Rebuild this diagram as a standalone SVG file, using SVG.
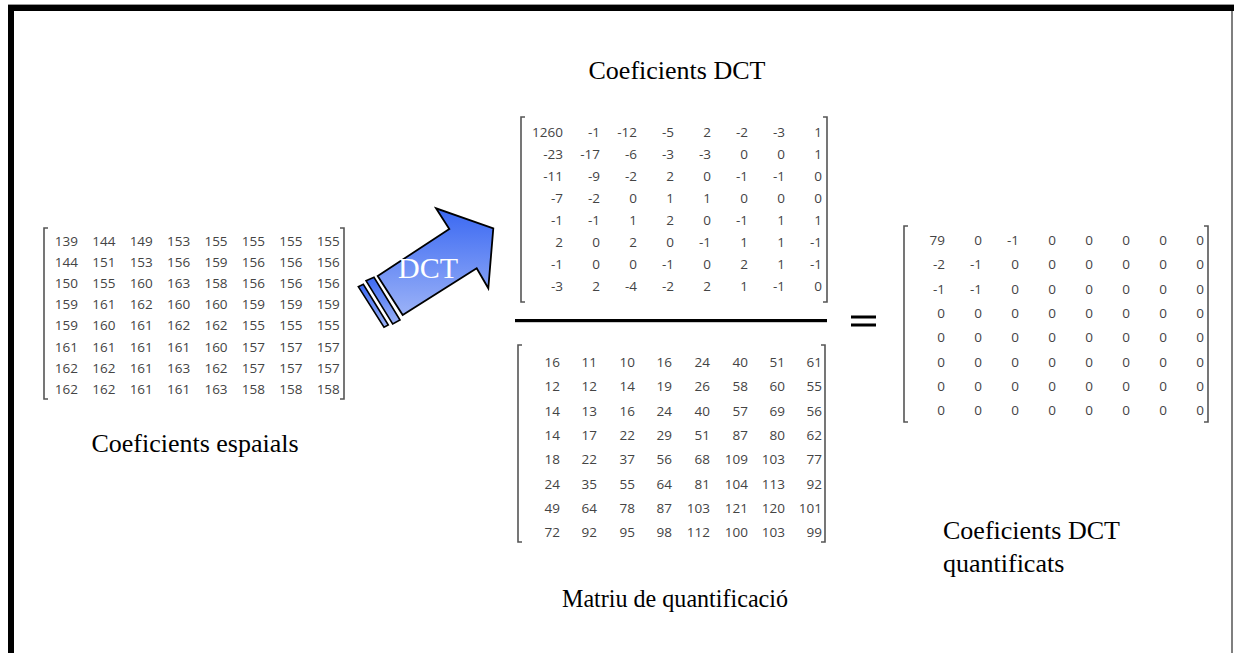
<svg xmlns="http://www.w3.org/2000/svg" width="1234" height="653" viewBox="0 0 1234 653">
  <style>
    .num { font-family: "Open Sans", "Noto Sans", "DejaVu Sans", sans-serif; font-size: 13.5px; fill: #444; text-anchor: end; }
    .lbl { font-family: "Liberation Serif", "Times New Roman", serif; font-size: 26px; fill: #000; }
    .br { fill: none; stroke: #555; stroke-width: 1.6; }
    .frame { fill: #000; }
  </style>
  <defs>
    <linearGradient id="arrowFill" x1="0" y1="0" x2="0" y2="1">
      <stop offset="0" stop-color="#3a68f2"/>
      <stop offset="1" stop-color="#9bb2f7"/>
    </linearGradient>
  </defs>

  <rect width="1234" height="653" fill="#fff"/>

  <!-- outer frame: heavy top and left edges, thin right edge -->
  <g id="frame">
    <line x1="8" y1="4.5" x2="1234" y2="4.5" stroke="#999" stroke-width="1"/>
    <rect class="frame" x="8" y="5" width="1226" height="6"/>
    <rect class="frame" x="8" y="5" width="6" height="648"/>
    <line x1="1232" y1="11" x2="1232" y2="653" stroke="#555" stroke-width="1.5"/>
  </g>

  <!-- spatial coefficients -->
  <g id="spatial">
    <path class="br" d="M48,228 H44 V399 H48"/>
    <path class="br" d="M340,228 H344 V399 H340"/>
    <g class="num">
      <text y="246"><tspan x="78">139</tspan><tspan x="115.4">144</tspan><tspan x="152.8">149</tspan><tspan x="190.2">153</tspan><tspan x="227.6">155</tspan><tspan x="265">155</tspan><tspan x="302.4">155</tspan><tspan x="339.8">155</tspan></text>
      <text y="267.1"><tspan x="78">144</tspan><tspan x="115.4">151</tspan><tspan x="152.8">153</tspan><tspan x="190.2">156</tspan><tspan x="227.6">159</tspan><tspan x="265">156</tspan><tspan x="302.4">156</tspan><tspan x="339.8">156</tspan></text>
      <text y="288.2"><tspan x="78">150</tspan><tspan x="115.4">155</tspan><tspan x="152.8">160</tspan><tspan x="190.2">163</tspan><tspan x="227.6">158</tspan><tspan x="265">156</tspan><tspan x="302.4">156</tspan><tspan x="339.8">156</tspan></text>
      <text y="309.3"><tspan x="78">159</tspan><tspan x="115.4">161</tspan><tspan x="152.8">162</tspan><tspan x="190.2">160</tspan><tspan x="227.6">160</tspan><tspan x="265">159</tspan><tspan x="302.4">159</tspan><tspan x="339.8">159</tspan></text>
      <text y="330.4"><tspan x="78">159</tspan><tspan x="115.4">160</tspan><tspan x="152.8">161</tspan><tspan x="190.2">162</tspan><tspan x="227.6">162</tspan><tspan x="265">155</tspan><tspan x="302.4">155</tspan><tspan x="339.8">155</tspan></text>
      <text y="351.5"><tspan x="78">161</tspan><tspan x="115.4">161</tspan><tspan x="152.8">161</tspan><tspan x="190.2">161</tspan><tspan x="227.6">160</tspan><tspan x="265">157</tspan><tspan x="302.4">157</tspan><tspan x="339.8">157</tspan></text>
      <text y="372.6"><tspan x="78">162</tspan><tspan x="115.4">162</tspan><tspan x="152.8">161</tspan><tspan x="190.2">163</tspan><tspan x="227.6">162</tspan><tspan x="265">157</tspan><tspan x="302.4">157</tspan><tspan x="339.8">157</tspan></text>
      <text y="393.7"><tspan x="78">162</tspan><tspan x="115.4">162</tspan><tspan x="152.8">161</tspan><tspan x="190.2">161</tspan><tspan x="227.6">163</tspan><tspan x="265">158</tspan><tspan x="302.4">158</tspan><tspan x="339.8">158</tspan></text>
    </g>
    <text class="lbl" x="195" y="452" text-anchor="middle">Coeficients espaials</text>
  </g>

  <!-- DCT transform arrow -->
  <g id="dct-arrow">
    <polygon points="358.3,286.7 363.3,284.3 388.3,325 384,327.3" fill="url(#arrowFill)" stroke="#000" stroke-width="1.6"/>
    <polygon points="366,280.7 374,277.3 400,320 392.7,324" fill="url(#arrowFill)" stroke="#000" stroke-width="1.6"/>
    <polygon points="402.7,315 377.7,276 449.3,229 436,208.3 493.3,228.3 488.3,288.3 476.7,268.3" fill="url(#arrowFill)" stroke="#000" stroke-width="1.8"/>
    <text x="428" y="278" text-anchor="middle" font-family="Liberation Serif, Times New Roman, serif" font-size="30" fill="#fff">DCT</text>
  </g>

  <!-- DCT coefficients (numerator) -->
  <g id="dct-coefs">
    <text class="lbl" x="677" y="79" text-anchor="middle">Coeficients DCT</text>
    <path class="br" d="M525,117 H521 V302 H525"/>
    <path class="br" d="M823,117 H827 V302 H823"/>
    <g class="num">
      <text y="137"><tspan x="563">1260</tspan><tspan x="600">-1</tspan><tspan x="637">-12</tspan><tspan x="674">-5</tspan><tspan x="711">2</tspan><tspan x="748">-2</tspan><tspan x="785">-3</tspan><tspan x="822">1</tspan></text>
      <text y="159"><tspan x="563">-23</tspan><tspan x="600">-17</tspan><tspan x="637">-6</tspan><tspan x="674">-3</tspan><tspan x="711">-3</tspan><tspan x="748">0</tspan><tspan x="785">0</tspan><tspan x="822">1</tspan></text>
      <text y="181"><tspan x="563">-11</tspan><tspan x="600">-9</tspan><tspan x="637">-2</tspan><tspan x="674">2</tspan><tspan x="711">0</tspan><tspan x="748">-1</tspan><tspan x="785">-1</tspan><tspan x="822">0</tspan></text>
      <text y="203"><tspan x="563">-7</tspan><tspan x="600">-2</tspan><tspan x="637">0</tspan><tspan x="674">1</tspan><tspan x="711">1</tspan><tspan x="748">0</tspan><tspan x="785">0</tspan><tspan x="822">0</tspan></text>
      <text y="225"><tspan x="563">-1</tspan><tspan x="600">-1</tspan><tspan x="637">1</tspan><tspan x="674">2</tspan><tspan x="711">0</tspan><tspan x="748">-1</tspan><tspan x="785">1</tspan><tspan x="822">1</tspan></text>
      <text y="247"><tspan x="563">2</tspan><tspan x="600">0</tspan><tspan x="637">2</tspan><tspan x="674">0</tspan><tspan x="711">-1</tspan><tspan x="748">1</tspan><tspan x="785">1</tspan><tspan x="822">-1</tspan></text>
      <text y="269"><tspan x="563">-1</tspan><tspan x="600">0</tspan><tspan x="637">0</tspan><tspan x="674">-1</tspan><tspan x="711">0</tspan><tspan x="748">2</tspan><tspan x="785">1</tspan><tspan x="822">-1</tspan></text>
      <text y="291"><tspan x="563">-3</tspan><tspan x="600">2</tspan><tspan x="637">-4</tspan><tspan x="674">-2</tspan><tspan x="711">2</tspan><tspan x="748">1</tspan><tspan x="785">-1</tspan><tspan x="822">0</tspan></text>
    </g>
  </g>

  <!-- fraction bar -->
  <g id="division">
    <rect x="515" y="319" width="312" height="3.2" fill="#000"/>
  </g>

  <!-- quantisation matrix (denominator) -->
  <g id="quant-matrix">
    <path class="br" d="M522,345 H518 V542 H522"/>
    <path class="br" d="M821,345 H825 V542 H821"/>
    <g class="num">
      <text y="367"><tspan x="560">16</tspan><tspan x="597">11</tspan><tspan x="635">10</tspan><tspan x="672">16</tspan><tspan x="710">24</tspan><tspan x="748">40</tspan><tspan x="785">51</tspan><tspan x="822">61</tspan></text>
      <text y="391.3"><tspan x="560">12</tspan><tspan x="597">12</tspan><tspan x="635">14</tspan><tspan x="672">19</tspan><tspan x="710">26</tspan><tspan x="748">58</tspan><tspan x="785">60</tspan><tspan x="822">55</tspan></text>
      <text y="415.6"><tspan x="560">14</tspan><tspan x="597">13</tspan><tspan x="635">16</tspan><tspan x="672">24</tspan><tspan x="710">40</tspan><tspan x="748">57</tspan><tspan x="785">69</tspan><tspan x="822">56</tspan></text>
      <text y="439.9"><tspan x="560">14</tspan><tspan x="597">17</tspan><tspan x="635">22</tspan><tspan x="672">29</tspan><tspan x="710">51</tspan><tspan x="748">87</tspan><tspan x="785">80</tspan><tspan x="822">62</tspan></text>
      <text y="464.2"><tspan x="560">18</tspan><tspan x="597">22</tspan><tspan x="635">37</tspan><tspan x="672">56</tspan><tspan x="710">68</tspan><tspan x="748">109</tspan><tspan x="785">103</tspan><tspan x="822">77</tspan></text>
      <text y="488.5"><tspan x="560">24</tspan><tspan x="597">35</tspan><tspan x="635">55</tspan><tspan x="672">64</tspan><tspan x="710">81</tspan><tspan x="748">104</tspan><tspan x="785">113</tspan><tspan x="822">92</tspan></text>
      <text y="512.8"><tspan x="560">49</tspan><tspan x="597">64</tspan><tspan x="635">78</tspan><tspan x="672">87</tspan><tspan x="710">103</tspan><tspan x="748">121</tspan><tspan x="785">120</tspan><tspan x="822">101</tspan></text>
      <text y="537.1"><tspan x="560">72</tspan><tspan x="597">92</tspan><tspan x="635">95</tspan><tspan x="672">98</tspan><tspan x="710">112</tspan><tspan x="748">100</tspan><tspan x="785">103</tspan><tspan x="822">99</tspan></text>
    </g>
    <text class="lbl" x="675" y="607" text-anchor="middle" textLength="226" lengthAdjust="spacingAndGlyphs">Matriu de quantificació</text>
  </g>

  <!-- equals sign -->
  <g id="equals">
    <rect x="851" y="315.5" width="25" height="3" fill="#000"/>
    <rect x="851" y="323.5" width="25" height="3" fill="#000"/>
  </g>

  <!-- quantised DCT coefficients -->
  <g id="quantised">
    <path class="br" d="M908,226 H904 V422 H908"/>
    <path class="br" d="M1204,226 H1208 V422 H1204"/>
    <g class="num">
      <text y="245"><tspan x="945">79</tspan><tspan x="982">0</tspan><tspan x="1019">-1</tspan><tspan x="1056">0</tspan><tspan x="1093">0</tspan><tspan x="1130">0</tspan><tspan x="1167">0</tspan><tspan x="1204">0</tspan></text>
      <text y="269.3"><tspan x="945">-2</tspan><tspan x="982">-1</tspan><tspan x="1019">0</tspan><tspan x="1056">0</tspan><tspan x="1093">0</tspan><tspan x="1130">0</tspan><tspan x="1167">0</tspan><tspan x="1204">0</tspan></text>
      <text y="293.6"><tspan x="945">-1</tspan><tspan x="982">-1</tspan><tspan x="1019">0</tspan><tspan x="1056">0</tspan><tspan x="1093">0</tspan><tspan x="1130">0</tspan><tspan x="1167">0</tspan><tspan x="1204">0</tspan></text>
      <text y="317.9"><tspan x="945">0</tspan><tspan x="982">0</tspan><tspan x="1019">0</tspan><tspan x="1056">0</tspan><tspan x="1093">0</tspan><tspan x="1130">0</tspan><tspan x="1167">0</tspan><tspan x="1204">0</tspan></text>
      <text y="342.2"><tspan x="945">0</tspan><tspan x="982">0</tspan><tspan x="1019">0</tspan><tspan x="1056">0</tspan><tspan x="1093">0</tspan><tspan x="1130">0</tspan><tspan x="1167">0</tspan><tspan x="1204">0</tspan></text>
      <text y="366.5"><tspan x="945">0</tspan><tspan x="982">0</tspan><tspan x="1019">0</tspan><tspan x="1056">0</tspan><tspan x="1093">0</tspan><tspan x="1130">0</tspan><tspan x="1167">0</tspan><tspan x="1204">0</tspan></text>
      <text y="390.8"><tspan x="945">0</tspan><tspan x="982">0</tspan><tspan x="1019">0</tspan><tspan x="1056">0</tspan><tspan x="1093">0</tspan><tspan x="1130">0</tspan><tspan x="1167">0</tspan><tspan x="1204">0</tspan></text>
      <text y="415.1"><tspan x="945">0</tspan><tspan x="982">0</tspan><tspan x="1019">0</tspan><tspan x="1056">0</tspan><tspan x="1093">0</tspan><tspan x="1130">0</tspan><tspan x="1167">0</tspan><tspan x="1204">0</tspan></text>
    </g>
    <text class="lbl" x="943" y="539">Coeficients DCT</text>
    <text class="lbl" x="943" y="572">quantificats</text>
  </g>
</svg>
